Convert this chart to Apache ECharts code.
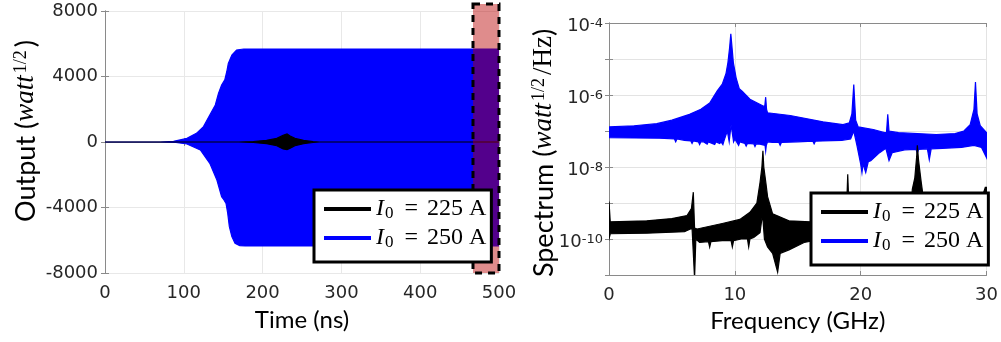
<!DOCTYPE html>
<html><head><meta charset="utf-8">
<script src="https://cdn.jsdelivr.net/npm/echarts@6/dist/echarts.min.js"></script>
<style>html,body{margin:0;padding:0;background:#fff}#c{width:1001px;height:342px}</style>
</head><body><div id="c"></div>
<script>
// ---------- Series names ----------
const NAME_225 = 'I0 = 225 A';
const NAME_250 = 'I0 = 250 A';

// ---------- Left panel: time-domain envelopes (ns, watt^1/2) ----------
const timeTicks = [0, 100, 200, 300, 400, 500];
const outputTicks = [-8000, -4000, 0, 4000, 8000];
const blueUpperT = [0, 70, 87, 104, 116, 125, 133, 140, 144, 148, 152, 154.5, 156.5, 161, 167, 176, 500];
const blueUpperV = [0, 0, 40, 220, 530, 940, 1650, 2260, 2970, 3480, 3790, 4290, 4800, 5310, 5620, 5680, 5680];
const blueLowerT = [0, 70, 90, 104, 121, 133, 142, 148, 151, 153.6, 155.7, 157.8, 161, 165, 171, 178, 500];
const blueLowerV = [0, 0, -30, -120, -490, -1300, -2320, -3340, -3540, -3750, -4350, -5170, -5780, -6190, -6330, -6350, -6350];
const blackT = [0, 170, 188, 205, 218, 226, 231, 235, 241, 252, 264, 272, 500];
const blackUpperV = [0, 0, 30, 100, 220, 410, 490, 370, 220, 100, 20, 0, 0];
const blackLowerV = [0, 0, -30, -100, -230, -420, -470, -380, -230, -100, -20, 0, 0];
const windowT = [467, 500];          // highlighted time window (ns)
const windowV = [-8000, 8430];       // its vertical extent

// ---------- Right panel: spectra (GHz, watt^1/2/Hz) ----------
const blueHiF = [0, 2, 3.8, 5, 6.4, 7.3, 8.0, 8.6, 9.0, 9.3, 9.45, 9.58, 9.68, 9.78, 9.88, 10.1, 10.35, 10.6, 11.2, 12.25, 12.38, 12.45, 12.52, 12.6, 14.4, 17.0, 18.6, 19.1, 19.3, 19.45, 19.6, 19.8, 21.0, 21.9, 22.05, 22.15, 22.25, 23, 26, 27.5, 28.2, 28.7, 29.0, 29.12, 29.25, 29.5, 30];
const blueHi  = [1.3e-7, 1.4e-7, 1.6e-7, 2.0e-7, 2.9e-7, 4.0e-7, 6.0e-7, 1.3e-6, 2.0e-6, 4.0e-6, 8e-6, 2e-5, 5e-5, 2e-5, 8e-6, 3e-6, 1.5e-6, 1.25e-6, 7.6e-7, 4.9e-7, 5e-7, 8.7e-7, 4e-7, 3.2e-7, 2.7e-7, 1.8e-7, 1.5e-7, 1.7e-7, 3e-7, 1.95e-6, 2e-7, 1.3e-7, 1.1e-7, 9e-8, 9e-8, 2.9e-7, 1e-7, 9e-8, 8e-8, 8.5e-8, 1.0e-7, 1.5e-7, 4e-7, 2.3e-6, 3e-7, 1.4e-7, 9e-8];
const blueLoF = [0, 4, 5.2, 5.3, 5.4, 6, 6.5, 6.6, 6.7, 7.1, 7.2, 7.3, 7.5, 7.8, 7.9, 8.4, 8.5, 8.8, 8.9, 9.05, 9.15, 9.4, 9.55, 9.7, 9.9, 10.0, 10.3, 10.4, 10.8, 10.9, 11, 11.5, 11.6, 11.7, 12.0, 12.4, 12.45, 12.5, 12.6, 13, 13.5, 13.6, 13.7, 15, 16.2, 16.3, 16.4, 17, 18.5, 19.2, 19.45, 19.7, 20.0, 20.1, 20.2, 20.3, 20.4, 20.6, 20.8, 21.5, 22.0, 22.25, 22.5, 23.5, 24.4, 24.5, 24.6, 25.3, 25.45, 25.6, 26.5, 28, 29, 29.6, 30];
const blueLo  = [6.5e-8, 6.3e-8, 6e-8, 5e-8, 6e-8, 5.5e-8, 5.3e-8, 4.5e-8, 5.3e-8, 5e-8, 4.2e-8, 5e-8, 5e-8, 4.3e-8, 5e-8, 4.2e-8, 5e-8, 4.5e-8, 5e-8, 4.2e-8, 5.5e-8, 1e-7, 5e-8, 1.5e-7, 5e-8, 6e-8, 4e-8, 5e-8, 4.5e-8, 3.8e-8, 4.5e-8, 4.4e-8, 3.7e-8, 4.4e-8, 4.3e-8, 4e-8, 2.8e-8, 4e-8, 5e-8, 4.8e-8, 4.8e-8, 4e-8, 4.8e-8, 5e-8, 5.2e-8, 4.4e-8, 5.2e-8, 5.3e-8, 5.5e-8, 6e-8, 1e-7, 4e-8, 1.2e-8, 7e-9, 1.3e-8, 9e-9, 7e-9, 1.4e-8, 1.5e-8, 2.5e-8, 3.3e-8, 1.5e-8, 2.5e-8, 3e-8, 3.1e-8, 2.4e-8, 3.1e-8, 3.2e-8, 1.6e-8, 3.2e-8, 3.3e-8, 3.5e-8, 4e-8, 3.5e-8, 1.8e-8];
const blackHiF = [0, 0.1, 3, 5, 6.2, 6.55, 6.7, 6.8, 7.0, 9.0, 10.4, 11.2, 11.75, 12.0, 12.15, 12.23, 12.3, 12.45, 12.6, 13, 14.3, 16, 18.85, 18.97, 19.1, 22, 24.0, 24.1, 24.3, 24.45, 24.5, 24.6, 24.8, 24.9, 25.0, 28, 29.5, 29.9, 30];
const blackHi  = [1.1e-9, 3e-10, 3.2e-10, 3.7e-10, 4.5e-10, 7e-10, 2.0e-9, 2e-10, 1.9e-10, 2.7e-10, 3.5e-10, 5.5e-10, 1.0e-9, 3.7e-9, 1e-8, 2.8e-8, 1e-8, 4e-9, 1.5e-9, 5e-10, 3.2e-10, 3e-10, 3.5e-10, 6.3e-9, 3.5e-10, 4e-10, 6e-10, 2.4e-9, 5e-9, 2e-8, 4e-8, 1.5e-8, 4e-9, 2.2e-9, 6e-10, 5e-10, 1e-9, 2.7e-9, 2.7e-9];
const blackLoF = [0, 0.1, 3, 6, 6.6, 6.8, 6.9, 7.2, 7.9, 8.0, 8.1, 9, 9.7, 9.8, 9.9, 10.5, 11.0, 11.1, 11.2, 11.5, 12.0, 12.2, 12.35, 12.6, 13, 13.4, 13.6, 14.3, 15.5, 17, 19, 22, 24, 24.5, 26, 29.5, 30];
const blackLo  = [1e-10, 1.4e-10, 1.45e-10, 1.6e-10, 2e-10, 8e-12, 1e-10, 8e-11, 8.5e-11, 6e-11, 8.5e-11, 9e-11, 9e-11, 6e-11, 9e-11, 1e-10, 1e-10, 6e-11, 1e-10, 1.1e-10, 1.5e-10, 5e-10, 1e-10, 6e-11, 4e-11, 1.2e-11, 4e-11, 5e-11, 8e-11, 1e-10, 1.1e-10, 1.2e-10, 1.3e-10, 1.5e-10, 1.3e-10, 1.2e-10, 1.2e-10];

// ---------- helpers ----------
const SANS = 'DejaVu Sans';
const TITLE = 'Lato';
const SERIF = 'Liberation Serif';
const AXIS_C = '#8a8a8a';
const LABEL_C = '#262626';

function band(name, color, xs1, ys1, xs2, ys2, xi, yi, clip, z) {
  return {
    type: 'custom', name: name, xAxisIndex: xi, yAxisIndex: yi, clip: clip, z: z || 2,
    itemStyle: { color: color }, silent: true,
    data: [[xs1[0], ys1[0]]],
    renderItem: function (params, api) {
      const pts = [];
      for (let i = 0; i < xs1.length; i++) pts.push(api.coord([xs1[i], ys1[i]]));
      for (let i = xs2.length - 1; i >= 0; i--) pts.push(api.coord([xs2[i], ys2[i]]));
      return { type: 'polygon', shape: { points: pts }, style: { fill: color, stroke: color, lineWidth: 1.2 } };
    }
  };
}

const legendRich = {
  i: { fontFamily: SERIF, fontStyle: 'italic', fontSize: 24, lineHeight: 26, color: '#000' },
  sub: { fontFamily: SERIF, fontSize: 17, lineHeight: 26, color: '#000', verticalAlign: 'bottom', padding: [0, 2, 0, 1] },
  eq: { fontFamily: SERIF, fontSize: 24, lineHeight: 26, color: '#000', padding: [0, 9, 0, 9] },
  t: { fontFamily: SERIF, fontSize: 24, lineHeight: 26, color: '#000' }
};
function legendFmt(name) {
  const rest = name.split('= ')[1];
  return '{i|I}{sub|0}{eq|=}{t|' + rest + '}';
}
function makeLegend(left, top) {
  return {
    data: [{ name: NAME_225, icon: 'rect' }, { name: NAME_250, icon: 'rect' }],
    left: left, top: top, orient: 'vertical', z: 20,
    itemWidth: 47, itemHeight: 4, itemGap: 4,
    padding: [7, 5, 11, 10],
    borderColor: '#000', borderWidth: 3, borderRadius: 0, backgroundColor: '#fff',
    selectedMode: false,
    formatter: legendFmt,
    textStyle: { rich: legendRich, padding: [0, 0, 0, 0] }
  };
}

const minorLogLines = [];
for (let k = -11; k <= -5; k++) for (let m = 2; m <= 9; m++) minorLogLines.push({ yAxis: m * Math.pow(10, k) });

const titleRich = {
  s: { fontFamily: TITLE, fontSize: 27, fill: '#000', verticalAlign: 'bottom' },
  m: { fontFamily: SERIF, fontStyle: 'italic', fontSize: 27, fill: '#000', verticalAlign: 'bottom' },
  h: { fontFamily: SERIF, fontSize: 27, fill: '#000', verticalAlign: 'bottom' },
  p: { fontFamily: SERIF, fontSize: 18, fill: '#000', verticalAlign: 'top', padding: [0, 3, 0, 2] }
};

const option = {
  animation: false,
  backgroundColor: '#fff',
  grid: [
    { left: 105, top: 11, width: 394, height: 262, show: false },
    { left: 609, top: 23, width: 380, height: 252, show: false }
  ],
  legend: [makeLegend(314, 190), makeLegend(811, 193)],
  xAxis: [
    { gridIndex: 0, type: 'value', min: timeTicks[0], max: timeTicks[timeTicks.length - 1], interval: 100,
      name: 'Time (ns)', nameLocation: 'middle', nameGap: 35,
      nameTextStyle: { fontFamily: TITLE, fontSize: 24, color: '#000' },
      axisLine: { show: true, lineStyle: { color: AXIS_C } }, axisTick: { inside: true, length: 4, lineStyle: { color: AXIS_C } },
      axisLabel: { fontFamily: SANS, fontSize: 18, color: LABEL_C, margin: 11 },
      splitLine: { show: true, lineStyle: { color: '#e8e8e8' } } },
    { gridIndex: 0, type: 'value', position: 'top', min: 0, max: 500, interval: 100,
      axisLine: { show: true, lineStyle: { color: AXIS_C } }, axisTick: { inside: true, length: 4, lineStyle: { color: AXIS_C } },
      axisLabel: { show: false }, splitLine: { show: false } },
    { gridIndex: 1, type: 'value', min: 0, max: 30, interval: 10,
      name: 'Frequency (GHz)', nameLocation: 'middle', nameGap: 22,
      nameTextStyle: { fontFamily: TITLE, fontSize: 24, color: '#000' },
      axisLine: { show: true, lineStyle: { color: AXIS_C } }, axisTick: { inside: true, length: 4, lineStyle: { color: AXIS_C } },
      axisLabel: { fontFamily: SANS, fontSize: 18, color: LABEL_C, margin: 11 },
      splitLine: { show: true, lineStyle: { color: '#e3e3e3' } } },
    { gridIndex: 1, type: 'value', position: 'top', min: 0, max: 30, interval: 10,
      axisLine: { show: true, lineStyle: { color: AXIS_C } }, axisTick: { inside: true, length: 4, lineStyle: { color: AXIS_C } },
      axisLabel: { show: false }, splitLine: { show: false } }
  ],
  yAxis: [
    { gridIndex: 0, type: 'value', min: outputTicks[0], max: outputTicks[outputTicks.length - 1], interval: 4000,
      axisLine: { show: true, lineStyle: { color: AXIS_C } }, axisTick: { inside: true, length: 4, lineStyle: { color: AXIS_C } },
      axisLabel: { fontFamily: SANS, fontSize: 18, color: LABEL_C, margin: 7, formatter: v => String(v) },
      splitLine: { show: true, lineStyle: { color: '#e8e8e8' } } },
    { gridIndex: 0, type: 'value', position: 'right', min: -8000, max: 8000, interval: 4000,
      axisLine: { show: true, lineStyle: { color: AXIS_C } }, axisTick: { inside: true, length: 4, lineStyle: { color: AXIS_C } },
      axisLabel: { show: false }, splitLine: { show: false } },
    { gridIndex: 1, type: 'log', logBase: 10, min: 1e-11, max: 1e-4,
      axisLine: { show: true, lineStyle: { color: AXIS_C } }, axisTick: { inside: true, length: 4, lineStyle: { color: AXIS_C } },
      axisLabel: {
        margin: 6, color: LABEL_C, padding: [7, 0, 0, 0],
        formatter: function (v) {
          const e = Math.round(Math.log10(v));
          if (e % 2 !== 0) return '';
          return '{b|10}{e|' + e + '}';
        },
        rich: {
          b: { fontFamily: SANS, fontSize: 18, color: LABEL_C, verticalAlign: 'bottom' },
          e: { fontFamily: SANS, fontSize: 13, color: LABEL_C, verticalAlign: 'top' }
        }
      },
      splitLine: { show: true, lineStyle: { color: '#e3e3e3' } } },
    { gridIndex: 1, type: 'log', logBase: 10, position: 'right', min: 1e-11, max: 1e-4,
      axisLine: { show: true, lineStyle: { color: AXIS_C } }, axisTick: { inside: true, length: 4, lineStyle: { color: AXIS_C } },
      axisLabel: { show: false }, splitLine: { show: false } }
  ],
  graphic: [
    { type: 'text', x: 26, y: 131, rotation: Math.PI / 2, z: 10,
      style: { text: '{s|Output (}{m|watt}{p|1/2}{s|)}', align: 'center', verticalAlign: 'middle', rich: titleRich } },
    { type: 'text', x: 544, y: 153, rotation: Math.PI / 2, z: 10,
      style: { text: '{s|Spectrum (}{m|watt}{p|1/2}{h|/Hz}{s|)}', align: 'center', verticalAlign: 'middle', rich: titleRich } }
  ],
  series: [
    band(NAME_250, '#0000ff', blueUpperT, blueUpperV, blueLowerT, blueLowerV, 0, 0, true, 2),
    band(NAME_225, '#000000', blackT, blackUpperV, blackT, blackLowerV, 0, 0, true, 3),
    {
      type: 'custom', name: 'window', xAxisIndex: 0, yAxisIndex: 0, clip: false, z: 4, silent: true,
      data: [[windowT[0], windowV[0], windowT[1], windowV[1]]],
      renderItem: function (params, api) {
        const p0 = api.coord([api.value(0), api.value(3)]);
        const p1 = api.coord([api.value(2), api.value(1)]);
        return { type: 'rect', shape: { x: p0[0], y: p0[1], width: p1[0] - p0[0], height: p1[1] - p0[1] },
          style: { fill: 'rgba(185,0,0,0.45)', stroke: '#000', lineWidth: 3, lineDash: [7, 6] } };
      }
    },
    {
      type: 'line', name: 'minor', xAxisIndex: 2, yAxisIndex: 2, data: [], silent: true,
      markLine: { silent: true, symbol: 'none', label: { show: false },
        lineStyle: { type: 'dotted', color: '#d4d4d4', width: 1 }, data: minorLogLines }
    },
    band(NAME_250, '#0000ff', blueHiF, blueHi, blueLoF, blueLo, 2, 2, true, 2),
    band(NAME_225, '#000000', blackHiF, blackHi, blackLoF, blackLo, 2, 2, true, 3)
  ]
};
const chart = echarts.init(document.getElementById('c'), null, { renderer: 'canvas' });
chart.setOption(option);
</script></body></html>
